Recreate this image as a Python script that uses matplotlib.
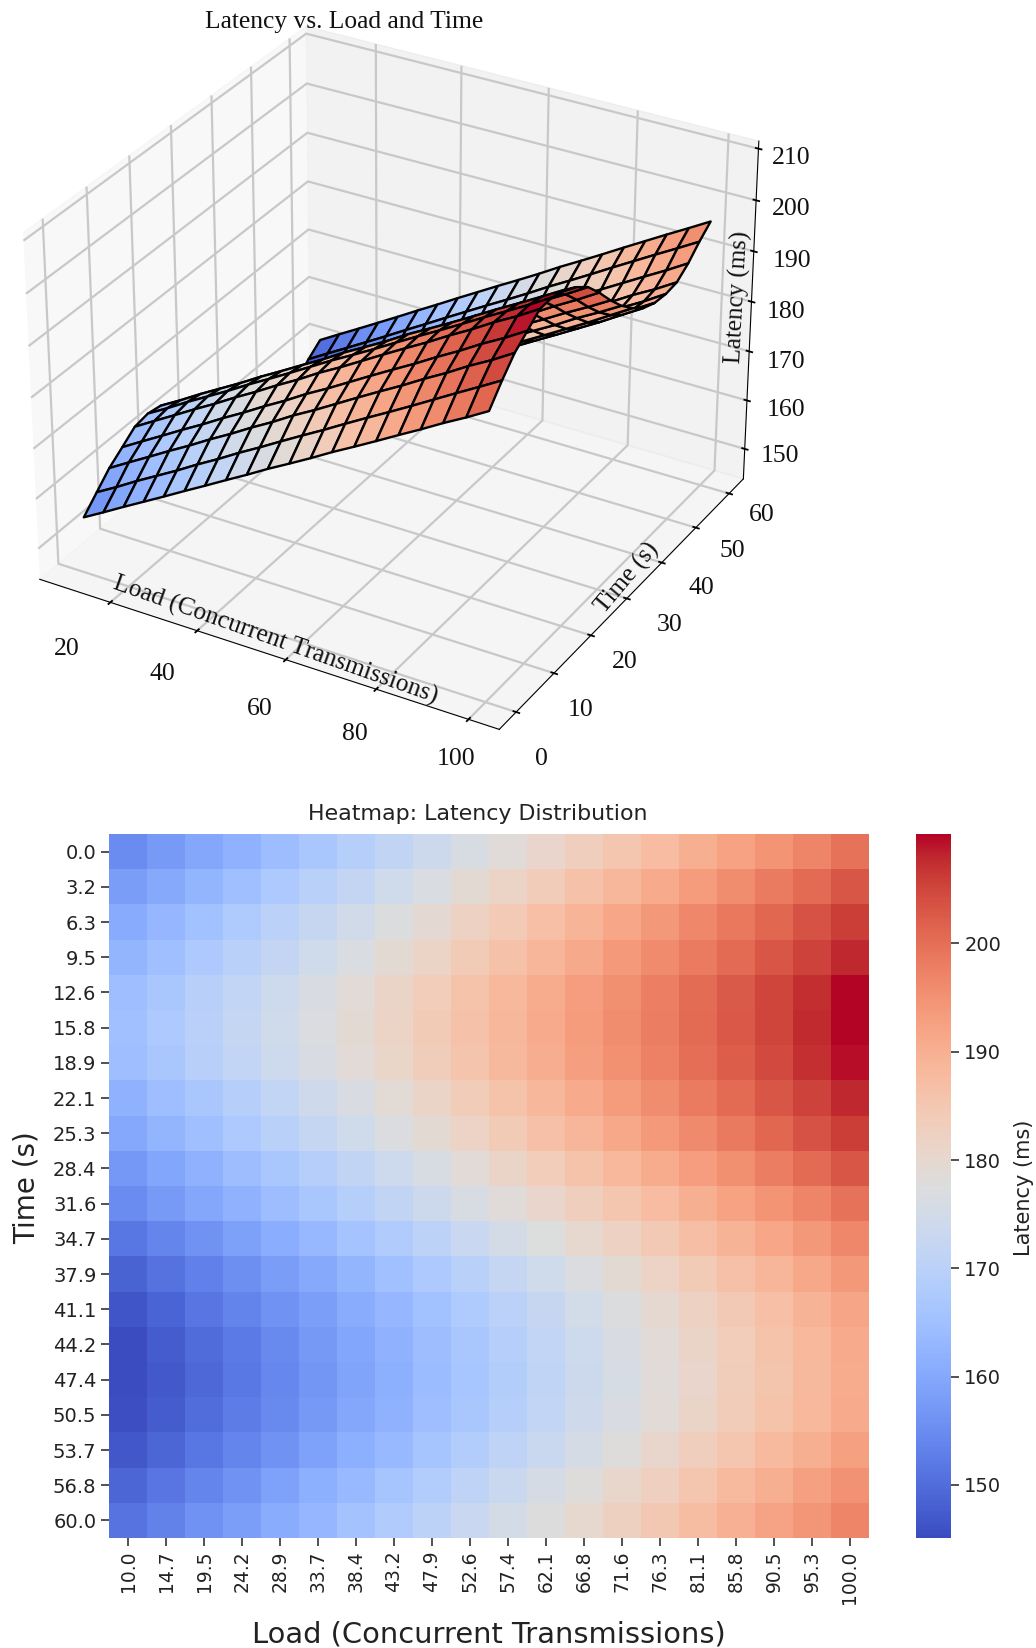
import numpy as np
import matplotlib
matplotlib.use("Agg")
import matplotlib.pyplot as plt

load = [10.0,14.7,19.5,24.2,28.9,33.7,38.4,43.2,47.9,52.6,57.4,62.1,66.8,71.6,76.3,81.1,85.8,90.5,95.3,100.0]
time_s = [0.0,3.2,6.3,9.5,12.6,15.8,18.9,22.1,25.3,28.4,31.6,34.7,37.9,41.1,44.2,47.4,50.5,53.7,56.8,60.0]
latency = [
[155.0,157.3,159.7,162.0,164.3,166.7,169.0,171.4,173.7,176.1,178.4,180.7,183.1,185.4,187.7,190.1,192.4,194.8,197.1,199.5],
[157.8,160.1,162.6,164.9,167.2,169.7,172.0,174.5,176.8,179.2,181.6,183.9,186.3,188.7,191.0,193.4,195.8,198.2,200.6,203.0],
[160.5,162.9,165.3,167.7,170.0,172.5,174.8,177.3,179.6,182.1,184.4,186.8,189.2,191.6,193.9,196.4,198.7,201.2,203.5,206.0],
[162.5,164.9,167.3,169.7,172.0,174.5,176.8,179.3,181.6,184.1,186.4,188.8,191.2,193.6,195.9,198.4,200.7,203.2,205.5,208.0],
[164.5,166.9,169.3,171.7,174.0,176.5,178.8,181.3,183.6,186.1,188.4,190.8,193.2,195.6,197.9,200.4,202.7,205.2,207.5,210.0],
[165.0,167.3,169.8,172.1,174.4,176.9,179.2,181.6,184.0,186.4,188.7,191.0,193.4,195.8,198.1,200.5,202.9,205.2,207.6,210.1],
[164.5,166.8,169.3,171.6,173.9,176.4,178.7,181.1,183.4,185.9,188.2,190.5,193.0,195.3,197.6,200.0,202.4,204.7,207.1,209.5],
[162.0,164.4,166.9,169.2,171.6,174.1,176.5,179.0,181.3,183.8,186.2,188.6,191.0,193.4,195.8,198.3,200.6,203.1,205.5,208.0],
[160.0,162.4,164.9,167.2,169.6,172.1,174.5,177.0,179.3,181.8,184.2,186.6,189.0,191.4,193.8,196.3,198.6,201.1,203.5,206.0],
[157.0,159.4,161.9,164.2,166.6,169.1,171.5,174.0,176.3,178.8,181.2,183.6,186.0,188.4,190.8,193.3,195.6,198.1,200.5,203.0],
[155.0,157.3,159.7,162.0,164.3,166.7,169.0,171.4,173.7,176.1,178.4,180.7,183.1,185.4,187.7,190.1,192.4,194.8,197.1,199.5],
[151.5,153.8,156.2,158.5,160.9,163.3,165.7,168.1,170.4,172.8,175.2,177.5,179.9,182.3,184.6,187.0,189.3,191.8,194.1,196.5],
[148.5,150.8,153.2,155.5,157.8,160.2,162.6,165.0,167.3,169.7,172.1,174.5,176.9,179.3,181.7,184.1,186.5,188.9,191.5,194.0],
[146.5,148.8,151.2,153.5,155.8,158.2,160.6,163.0,165.3,167.7,170.1,172.5,174.9,177.3,179.7,182.1,184.5,186.9,189.5,192.0],
[145.2,147.4,149.9,152.2,154.6,157.1,159.5,162.0,164.3,166.8,169.2,171.6,174.0,176.4,178.8,181.3,183.6,186.1,188.5,191.0],
[145.1,147.0,149.4,151.8,154.1,156.6,159.1,161.5,163.9,166.4,168.7,171.2,173.6,176.0,178.4,180.9,183.3,185.7,188.1,190.7],
[145.4,147.6,150.0,152.4,154.7,157.2,159.6,162.1,164.4,166.9,169.2,171.6,174.1,176.5,178.8,181.4,183.7,186.2,188.5,191.0],
[146.7,149.1,151.5,153.8,156.2,158.7,161.1,163.6,166.0,168.4,170.8,173.2,175.7,178.1,180.5,183.0,185.4,187.8,190.2,192.7],
[149.0,151.4,153.8,156.2,158.6,161.1,163.5,166.0,168.4,170.8,173.2,175.6,178.1,180.5,182.9,185.4,187.8,190.2,192.6,195.0],
[151.0,153.4,155.8,158.2,160.6,163.1,165.5,168.0,170.4,172.8,175.2,177.6,180.1,182.5,184.9,187.4,189.8,192.2,194.6,197.0],
]
x3d_ticks = [20,40,60,80,100]
y3d_ticks = [0,10,20,30,40,50,60]
z3d_ticks = [150,160,170,180,190,200,210]
cbar_ticks = [150,160,170,180,190,200]

W, H = 1036, 1648
SERIF = "Liberation Serif"
SANS = "DejaVu Sans"

# Where the reference sets its (hand-placed) 3D tick labels, in pixels.
x3d_label_px = [(67,649),(162,674),(260,709),(355,734),(456,759)]
y3d_label_px = [(541,759),(581,710),(625,662),(670,625),(701,588),(732,551),(762,515)]
z3d_label_px = [(780,456),(786,410),(786,362),(786,312),(792,261),(791,209),(791,158)]

def fx(px): return px / W
def fy(py): return 1 - py / H
def rect(l, t, r, b): return [fx(l), fy(b), (r - l) / W, (b - t) / H]

Z = np.array(latency)
X, Y = np.meshgrid(load, time_s)
fig = plt.figure(figsize=(W / 100, H / 100), dpi=100)

# ---- 3D surface ----
ax3 = fig.add_axes(rect(-22, -37, 796, 781), projection="3d")
ax3.patch.set_alpha(0)
ax3.plot_surface(X, Y, Z, cmap="coolwarm", edgecolor="black", linewidth=1.7,
                 rstride=1, cstride=1, antialiased=True)
ax3.set_xticks(x3d_ticks)
ax3.set_yticks(y3d_ticks)
ax3.set_zticks(z3d_ticks)
ax3.set_xticklabels([])
ax3.set_yticklabels([])
ax3.set_zticklabels([])
for axis in (ax3.xaxis, ax3.yaxis, ax3.zaxis):
    axis._axinfo["grid"].update(color="#c8c8c8", linewidth=1.6)
    axis._axinfo["axisline"].update(color="#2a2a2a", linewidth=1.6)
    axis._axinfo["tick"].update(color="#444444", linewidth={True: 1.3, False: 1.0},
                                inward_factor=0.08, outward_factor=0.07)

for ticks, places in ((x3d_ticks, x3d_label_px), (y3d_ticks, y3d_label_px), (z3d_ticks, z3d_label_px)):
    for tick, (px, py) in zip(ticks, places):
        fig.text(fx(px), fy(py), str(tick), family=SERIF, fontsize=18.5,
                 ha="center", va="center", color="#111111")

fig.text(fx(344), fy(22), "Latency vs. Load and Time", family=SERIF, fontsize=18.4,
         ha="center", va="center", color="#111111")
fig.text(fx(275), fy(640), "Load (Concurrent Transmissions)", family=SERIF, fontsize=18.4,
         rotation=-19.5, ha="center", va="center", rotation_mode="anchor", color="#111111")
fig.text(fx(627), fy(578), "Time (s)", family=SERIF, fontsize=18,
         rotation=50, ha="center", va="center", rotation_mode="anchor", color="#111111")
fig.text(fx(738), fy(297), "Latency (ms)", family=SERIF, fontsize=18,
         rotation=87, ha="center", va="center", rotation_mode="anchor", color="#111111")

# ---- Heatmap ----
ax = fig.add_axes(rect(109, 834, 869, 1538))
xpos = np.arange(len(load) + 1)
ypos = np.arange(len(time_s) + 1)
mesh = ax.pcolormesh(xpos, ypos, Z, cmap="coolwarm", vmin=Z.min(), vmax=Z.max())
ax.invert_yaxis()
ax.set_xticks(xpos[:-1] + 0.5)
ax.set_xticklabels([f"{v:.1f}" for v in load], rotation=90, fontsize=13.5, family=SANS, color="#222222")
ax.set_yticks(ypos[:-1] + 0.5)
ax.set_yticklabels([f"{v:.1f}" for v in time_s], rotation=0, fontsize=14, family=SANS, color="#222222")
ax.tick_params(length=5.5, width=1.1, color="#222222")
for s in ax.spines.values():
    s.set_visible(False)

cax = fig.add_axes(rect(916, 834, 951, 1538))
cb = fig.colorbar(mesh, cax=cax)
cb.set_ticks(cbar_ticks)
cb.ax.tick_params(labelsize=14, length=6, width=1.1, color="#222222", labelcolor="#222222")
cb.outline.set_visible(False)

fig.text(fx(478), fy(814), "Heatmap: Latency Distribution", family=SANS, fontsize=15.9,
         ha="center", va="center", color="#222222")
fig.text(fx(489), fy(1634), "Load (Concurrent Transmissions)", family=SANS, fontsize=20.8,
         ha="center", va="center", color="#222222")
fig.text(fx(27), fy(1188), "Time (s)", family=SANS, fontsize=20, rotation=90,
         ha="center", va="center", color="#222222")
fig.text(fx(1024), fy(1188), "Latency (ms)", family=SANS, fontsize=15, rotation=90,
         ha="center", va="center", color="#222222")

fig.savefig("out.png", dpi=100)
